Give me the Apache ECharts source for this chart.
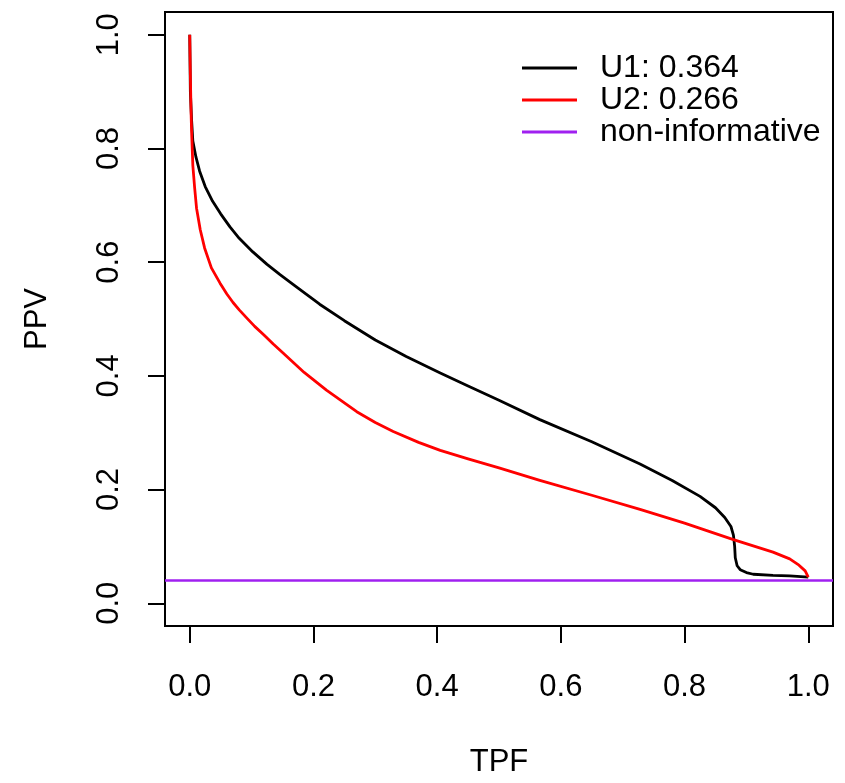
<!DOCTYPE html>
<html>
<head>
<meta charset="utf-8">
<script src="https://cdn.jsdelivr.net/npm/echarts@6/dist/echarts.min.js"></script>
<style>html,body{margin:0;padding:0;background:#fff}#c{width:845px;height:783px}</style>
</head>
<body>
<div id="c"></div>
<script>
const tickValues = [0, 0.2, 0.4, 0.6, 0.8, 1.0];
const u1TPF = [0, 0.001, 0.003, 0.005, 0.01, 0.016, 0.025, 0.037, 0.05, 0.065, 0.08, 0.102, 0.125, 0.146, 0.167, 0.21, 0.25, 0.3, 0.35, 0.405, 0.45, 0.5, 0.566, 0.65, 0.728, 0.78, 0.825, 0.85, 0.865, 0.875, 0.879, 0.881, 0.882, 0.885, 0.89, 0.90, 0.911, 0.943, 0.97, 1.0];
const u1PPV = [1.0, 0.90, 0.85, 0.813, 0.785, 0.76, 0.733, 0.707, 0.685, 0.662, 0.642, 0.618, 0.596, 0.578, 0.561, 0.526, 0.497, 0.463, 0.434, 0.405, 0.382, 0.357, 0.323, 0.284, 0.245, 0.216, 0.188, 0.168, 0.151, 0.135, 0.12, 0.10, 0.08, 0.066, 0.059, 0.054, 0.051, 0.049, 0.048, 0.046];
const u2TPF = [0, 0.001, 0.002, 0.003, 0.005, 0.008, 0.011, 0.017, 0.024, 0.035, 0.049, 0.06, 0.07, 0.08, 0.092, 0.105, 0.12, 0.135, 0.15, 0.185, 0.221, 0.27, 0.3, 0.329, 0.37, 0.405, 0.45, 0.5, 0.566, 0.65, 0.728, 0.8, 0.879, 0.943, 0.97, 0.985, 0.995, 1.0];
const u2PPV = [1.0, 0.93, 0.87, 0.83, 0.77, 0.73, 0.695, 0.657, 0.625, 0.59, 0.563, 0.544, 0.529, 0.516, 0.502, 0.487, 0.472, 0.456, 0.441, 0.406, 0.375, 0.337, 0.318, 0.302, 0.283, 0.269, 0.254, 0.238, 0.216, 0.19, 0.165, 0.141, 0.112, 0.09, 0.078, 0.067, 0.057, 0.046];
const prevalence = 0.045;
const seriesNames = ['U1: 0.364', 'U2: 0.266', 'non-informative'];

const font = "'Liberation Sans', Arial, Helvetica, sans-serif";
const zip = (a, b) => a.map((v, i) => [v, b[i]]);

const chart = echarts.init(document.getElementById('c'), null, {renderer: 'canvas'});
const axisCommon = {
  type: 'value', min: -0.04, max: 1.04,
  splitLine: {show: false},
  axisLine: {show: false, onZero: false},
  axisTick: {show: true, inside: false, length: 17, lineStyle: {color: '#000', width: 2}, customValues: tickValues},
  axisLabel: {color: '#000', fontSize: 31, fontFamily: font, customValues: tickValues, formatter: v => v.toFixed(1)},
  nameTextStyle: {color: '#000', fontSize: 31, fontFamily: font},
  nameLocation: 'middle'
};
chart.setOption({
  animation: false,
  backgroundColor: '#fff',
  grid: {left: 165, top: 12, width: 668, height: 617, show: true, borderColor: '#000', borderWidth: 2, backgroundColor: 'transparent'},
  xAxis: Object.assign({}, axisCommon, {name: 'TPF', nameGap: 121,
    axisLabel: Object.assign({}, axisCommon.axisLabel, {margin: 46})}),
  yAxis: Object.assign({}, axisCommon, {name: 'PPV', nameGap: 112,
    axisLabel: Object.assign({}, axisCommon.axisLabel, {rotate: 90, margin: 40})}),
  legend: {
    orient: 'vertical', left: 522, top: 52, padding: 0, itemWidth: 55, itemHeight: 3, itemGap: 0,
    icon: 'rect',
    textStyle: {color: '#000', fontSize: 32, fontFamily: font, lineHeight: 32, padding: [0, 0, 0, 18]},
    data: seriesNames
  },
  series: [
    {name: seriesNames[0], type: 'line', data: zip(u1TPF, u1PPV), showSymbol: false, symbol: 'none',
     lineStyle: {color: '#000', width: 2.8, join: 'round'}, itemStyle: {color: '#000'}, z: 2},
    {name: seriesNames[1], type: 'line', data: zip(u2TPF, u2PPV), showSymbol: false, symbol: 'none',
     lineStyle: {color: '#ff0000', width: 2.8, join: 'round'}, itemStyle: {color: '#ff0000'}, z: 3},
    {name: seriesNames[2], type: 'line', data: [], itemStyle: {color: '#a020f0'}, lineStyle: {color: '#a020f0'}, z: 4,
     markLine: {silent: true, symbol: 'none', label: {show: false},
       lineStyle: {color: '#a020f0', width: 2.5, type: 'solid'},
       data: [{yAxis: prevalence}]}}
  ]
});
</script>
</body>
</html>
